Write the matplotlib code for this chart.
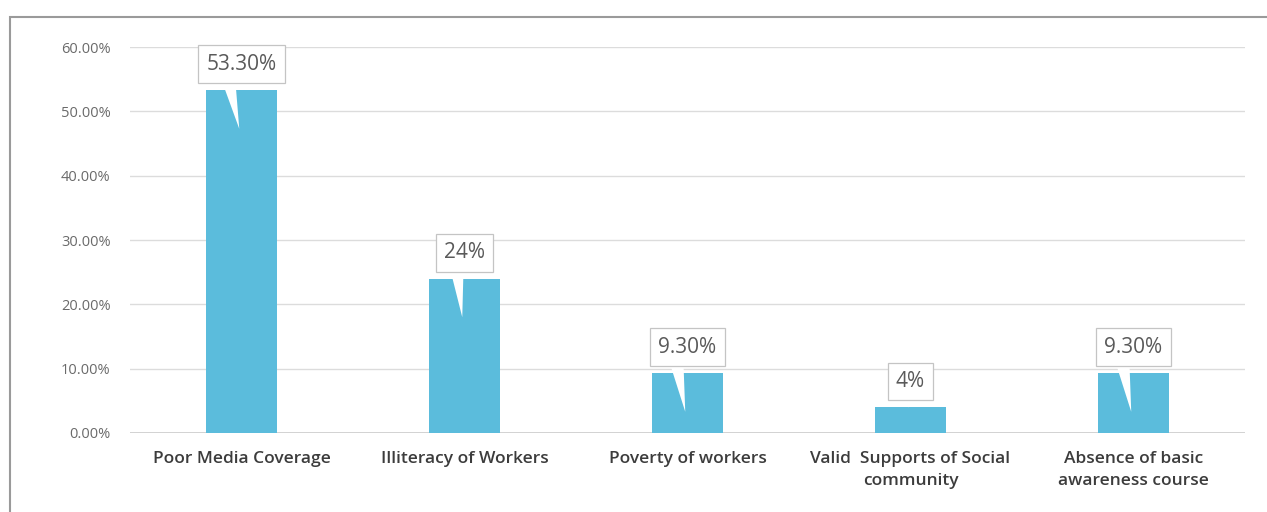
import matplotlib
matplotlib.use("Agg")
import matplotlib.pyplot as plt
from matplotlib.patches import Rectangle
import numpy as np

categories = ["Poor Media Coverage", "Illiteracy of Workers", "Poverty of workers",
              "Valid  Supports of Social\ncommunity", "Absence of basic\nawareness course"]
values = [53.3, 24.0, 9.3, 4.0, 9.3]
labels = ["53.30%", "24%", "9.30%", "4%", "9.30%"]
yticks = [0, 10, 20, 30, 40, 50, 60]

bar_color = "#5bbcdc"

plt.rcParams['font.family'] = ['Open Sans', 'DejaVu Sans']

fig = plt.figure(figsize=(12.67, 5.12), dpi=100)
ax = fig.add_axes([0.1026, 0.1543, 0.88, 0.7537])

x = np.arange(len(categories))
ax.bar(x, values, width=0.32, color=bar_color, zorder=2)

ax.set_xlim(-0.5, len(categories) - 0.5)
ax.set_ylim(0, 60)
ax.set_yticks(yticks)
ax.set_yticklabels(["%.2f%%" % v for v in yticks], color="#6a6a6a", fontsize=10.5)
ax.set_xticks(x)
ax.set_xticklabels(categories, color="#3c3c3c", fontsize=12.5, fontweight="semibold",
                   linespacing=1.5)
ax.tick_params(length=0)
ax.tick_params(axis="y", pad=14)
ax.tick_params(axis="x", pad=13)
ax.grid(axis="y", color="#dcdcdc", linewidth=1, zorder=0)
for s in ax.spines.values():
    s.set_visible(False)
ax.axhline(0, color="#c8c8c8", linewidth=1.2, zorder=1)

# callout labels with a white wedge pointing into the bar
for xi, v, lab in zip(x, values, labels):
    tip = v - 6 if v > 6 else v
    ax.annotate(lab, xy=(xi - 0.01, tip), xycoords="data",
                xytext=(xi, v + 2.4), textcoords="data",
                ha="center", va="bottom", fontsize=15, color="#5a5a5a",
                bbox=dict(boxstyle="square,pad=0.4", fc="white", ec="#c4c4c4", lw=0.9),
                arrowprops=dict(arrowstyle="wedge,tail_width=0.6,shrink_factor=0.5",
                                fc="white", ec="none", lw=0, relpos=(0.3, 0.0),
                                shrinkA=0, shrinkB=0),
                zorder=5)

# outer frame
fig.patches.append(Rectangle((10 / 1267, -0.01), 1.02, 1 - 17 / 512 + 0.01,
                             transform=fig.transFigure, fill=False,
                             ec="#9a9a9a", lw=1.5))

fig.savefig("out.png", dpi=100)
